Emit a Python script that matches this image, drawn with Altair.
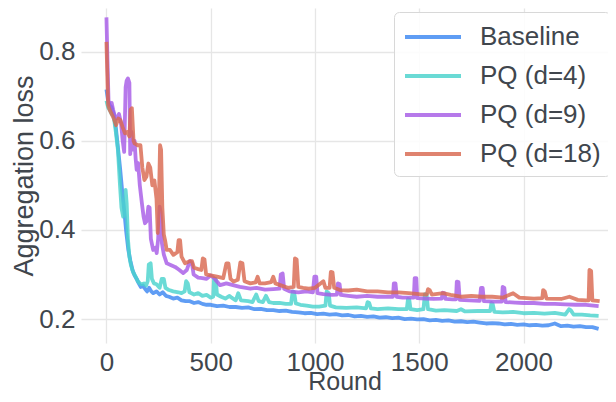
import altair as alt
import pandas as pd

series_names = ["Baseline", "PQ (d=4)", "PQ (d=9)", "PQ (d=18)"]
series_colors = ["#3d88f2", "#4ad3cd", "#a75ce6", "#d96950"]

base_x = [0, 8, 15, 25, 35, 45, 55, 65, 75, 85, 95, 105, 115, 125, 135, 145, 155, 165, 175, 185,
          195, 205, 215, 225, 240, 255, 270, 285, 300, 320, 340, 360, 380, 400, 420, 440, 460, 480,
          500, 530, 560, 590, 620, 650, 680, 710, 740, 770, 800, 830, 860, 890, 920, 950, 980, 1010,
          1040, 1070, 1100, 1130, 1160, 1190, 1220, 1250, 1280, 1310, 1340, 1370, 1400, 1430, 1460,
          1490, 1520, 1550, 1580, 1610, 1640, 1670, 1700, 1730, 1760, 1790, 1820, 1850, 1880, 1910,
          1940, 1970, 2000, 2030, 2060, 2090, 2120, 2150, 2180, 2210, 2240, 2270, 2300, 2330, 2360]
base_y = [0.715, 0.69, 0.68, 0.675, 0.66, 0.63, 0.585, 0.54, 0.49, 0.445, 0.395, 0.355, 0.33, 0.31,
          0.298, 0.29, 0.28, 0.272, 0.275, 0.268, 0.262, 0.27, 0.262, 0.258, 0.262, 0.255, 0.26,
          0.252, 0.25, 0.246, 0.248, 0.242, 0.24, 0.24, 0.236, 0.238, 0.234, 0.232, 0.232, 0.229,
          0.23, 0.227, 0.227, 0.225, 0.226, 0.222, 0.223, 0.22, 0.22, 0.218, 0.219, 0.216, 0.215,
          0.213, 0.214, 0.211, 0.212, 0.21, 0.211, 0.208, 0.209, 0.206, 0.207, 0.205, 0.206, 0.203,
          0.204, 0.202, 0.203, 0.2, 0.201, 0.199, 0.2, 0.197, 0.198, 0.196, 0.197, 0.194, 0.195,
          0.193, 0.194, 0.192, 0.19, 0.191, 0.19, 0.188, 0.189, 0.187, 0.188, 0.186, 0.187, 0.185,
          0.186, 0.19, 0.184, 0.185, 0.183, 0.184, 0.182, 0.182, 0.178]

pq4_x = [0, 8, 15, 25, 35, 45, 55, 65, 72, 80, 86, 92, 97, 103, 110, 118, 128, 140, 150, 160, 170,
         180, 190, 198, 203, 212, 218, 228, 240, 255, 265, 275, 283, 300, 320, 345, 360, 375, 382,
         390, 398, 420, 440, 460, 480, 500, 512, 516, 524, 530, 550, 570, 590, 600, 620, 632, 645,
         680, 700, 718, 730, 750, 765, 780, 800, 830, 860, 885, 893, 900, 908, 930, 960, 990, 1020,
         1050, 1056, 1066, 1072, 1100, 1150, 1200, 1245, 1252, 1260, 1268, 1300, 1350, 1400, 1440,
         1446, 1452, 1458, 1490, 1520, 1527, 1535, 1542, 1580, 1620, 1680, 1700, 1720, 1780, 1840,
         1846, 1852, 1860, 1900, 1950, 2000, 2050, 2100, 2150, 2200, 2218, 2226, 2240, 2280, 2320,
         2360]
pq4_y = [0.69, 0.675, 0.67, 0.66, 0.655, 0.62, 0.58, 0.5, 0.45, 0.43, 0.44, 0.49, 0.46, 0.38, 0.34,
         0.32, 0.305, 0.295, 0.285, 0.28, 0.278, 0.28, 0.275, 0.285, 0.322, 0.325, 0.29, 0.28, 0.278,
         0.27, 0.29, 0.29, 0.27, 0.265, 0.262, 0.26, 0.258, 0.262, 0.285, 0.28, 0.26, 0.255, 0.258,
         0.252, 0.254, 0.248, 0.25, 0.29, 0.29, 0.255, 0.25, 0.246, 0.252, 0.248, 0.242, 0.258,
         0.242, 0.24, 0.238, 0.255, 0.24, 0.238, 0.252, 0.238, 0.236, 0.236, 0.234, 0.234, 0.262,
         0.26, 0.235, 0.232, 0.23, 0.228, 0.228, 0.23, 0.262, 0.258, 0.23, 0.226, 0.225, 0.226,
         0.224, 0.238, 0.236, 0.224, 0.222, 0.224, 0.222, 0.222, 0.245, 0.244, 0.222, 0.22, 0.222,
         0.256, 0.255, 0.222, 0.219, 0.22, 0.218, 0.222, 0.217, 0.218, 0.218, 0.236, 0.234, 0.216,
         0.215, 0.216, 0.213, 0.214, 0.212, 0.214, 0.21, 0.222, 0.22, 0.21, 0.21, 0.208, 0.207]

pq9_x = [0, 5, 10, 18, 25, 32, 40, 50, 60, 70, 78, 85, 92, 97, 103, 110, 114, 120, 128, 135, 140,
         145, 152, 160, 170, 178, 185, 193, 201, 207, 213, 224, 235, 241, 248, 255, 260, 266, 275,
         289, 305, 329, 350, 368, 385, 400, 410, 418, 440, 460, 480, 500, 520, 545, 575, 607, 640,
         690, 720, 760, 800, 830, 836, 845, 852, 880, 920, 960, 990, 997, 1006, 1012, 1040, 1080,
         1105, 1110, 1118, 1124, 1160, 1200, 1250, 1300, 1340, 1374, 1378, 1386, 1392, 1420, 1460,
         1474, 1478, 1486, 1490, 1530, 1570, 1608, 1612, 1620, 1626, 1660, 1676, 1680, 1688, 1694,
         1740, 1790, 1796, 1804, 1810, 1860, 1896, 1900, 1908, 1914, 1960, 2000, 2050, 2100, 2150,
         2200, 2250, 2300, 2360]
pq9_y = [0.877, 0.78, 0.69, 0.68, 0.685, 0.67, 0.655, 0.65, 0.66, 0.64, 0.6, 0.575, 0.72, 0.735,
         0.74, 0.73, 0.57, 0.62, 0.58, 0.6, 0.56, 0.535, 0.55, 0.5, 0.46, 0.43, 0.415, 0.42, 0.452,
         0.45, 0.38, 0.355, 0.36, 0.348, 0.38, 0.452, 0.44, 0.37, 0.345, 0.325, 0.322, 0.317, 0.31,
         0.303, 0.31, 0.33, 0.325, 0.3, 0.293, 0.292, 0.29, 0.298, 0.29, 0.276, 0.28, 0.276, 0.272,
         0.268, 0.27, 0.266, 0.267, 0.268, 0.3, 0.302, 0.268, 0.262, 0.26, 0.262, 0.26, 0.295,
         0.295, 0.258, 0.256, 0.254, 0.255, 0.28, 0.278, 0.254, 0.252, 0.25, 0.252, 0.25, 0.25,
         0.25, 0.28, 0.28, 0.25, 0.248, 0.248, 0.248, 0.292, 0.292, 0.247, 0.246, 0.245, 0.246,
         0.259, 0.258, 0.245, 0.244, 0.244, 0.284, 0.283, 0.243, 0.242, 0.241, 0.27, 0.27, 0.24,
         0.239, 0.239, 0.272, 0.27, 0.238, 0.237, 0.236, 0.236, 0.234, 0.234, 0.233, 0.232, 0.232,
         0.229]

pq18_x = [0, 4, 8, 15, 25, 35, 46, 57, 67, 78, 89, 100, 110, 116, 122, 130, 135, 150, 163, 172,
          182, 192, 201, 210, 220, 230, 240, 246, 251, 257, 262, 268, 275, 281, 289, 305, 321, 340,
          346, 353, 360, 377, 400, 410, 420, 440, 455, 462, 470, 478, 500, 530, 560, 575, 585, 595,
          610, 630, 642, 652, 662, 690, 715, 725, 735, 760, 790, 800, 810, 840, 870, 898, 904, 912,
          920, 943, 970, 1000, 1040, 1050, 1070, 1076, 1084, 1092, 1120, 1160, 1200, 1250, 1300,
          1350, 1400, 1450, 1500, 1536, 1542, 1550, 1560, 1614, 1650, 1700, 1750, 1800, 1850, 1900,
          1950, 1980, 2050, 2090, 2094, 2102, 2110, 2180, 2220, 2260, 2300, 2312, 2316, 2324, 2330,
          2365]
pq18_y = [0.822, 0.75, 0.68, 0.67, 0.66, 0.65, 0.635, 0.65, 0.646, 0.63, 0.617, 0.62, 0.61, 0.67,
          0.673, 0.6, 0.594, 0.59, 0.59, 0.54, 0.512, 0.52, 0.549, 0.54, 0.5, 0.511, 0.47, 0.393,
          0.45, 0.59, 0.58, 0.45, 0.39, 0.377, 0.355, 0.355, 0.344, 0.35, 0.377, 0.377, 0.34, 0.325,
          0.33, 0.33, 0.315, 0.312, 0.31, 0.336, 0.334, 0.3, 0.298, 0.295, 0.292, 0.325, 0.325,
          0.29, 0.284, 0.288, 0.327, 0.325, 0.285, 0.28, 0.282, 0.295, 0.28, 0.28, 0.283, 0.295,
          0.28, 0.275, 0.27, 0.272, 0.336, 0.334, 0.272, 0.27, 0.268, 0.27, 0.285, 0.27, 0.27,
          0.306, 0.305, 0.27, 0.265, 0.264, 0.266, 0.262, 0.262, 0.26, 0.26, 0.258, 0.256, 0.255,
          0.267, 0.265, 0.255, 0.258, 0.254, 0.25, 0.252, 0.25, 0.25, 0.248, 0.258, 0.248, 0.246,
          0.247, 0.265, 0.262, 0.246, 0.245, 0.25, 0.243, 0.242, 0.242, 0.31, 0.308, 0.242, 0.24]

x_ticks = [0, 500, 1000, 1500, 2000]
y_ticks = [0.2, 0.4, 0.6, 0.8]

frames = []
for name, xs, ys in zip(series_names,
                        [base_x, pq4_x, pq9_x, pq18_x],
                        [base_y, pq4_y, pq9_y, pq18_y]):
    frames.append(pd.DataFrame({"Round": xs, "Loss": ys, "Series": name, "idx": range(len(xs))}))
df = pd.concat(frames, ignore_index=True)

FONT = "Liberation Sans"
TXT = "#40464d"

chart = alt.Chart(df).mark_line(strokeWidth=3.8, strokeOpacity=0.82, strokeJoin="round").encode(
    x=alt.X("Round:Q",
            scale=alt.Scale(domain=[-122, 2405], nice=False, zero=False),
            axis=alt.Axis(values=x_ticks, format="d", title="Round", labelPadding=6,
                          titlePadding=-6, titleFontSize=25)),
    y=alt.Y("Loss:Q",
            scale=alt.Scale(domain=[0.1462, 0.898], nice=False, zero=False),
            axis=alt.Axis(values=y_ticks, format=".1f", title="Aggregation loss", labelPadding=6,
                          titlePadding=0, titleFontSize=27)),
    color=alt.Color("Series:N",
                    scale=alt.Scale(domain=series_names, range=series_colors),
                    legend=alt.Legend(title=None, orient="none", legendX=313, legendY=4,
                                      symbolType="M-1,0H3", symbolSize=784, symbolStrokeWidth=4,
                                      labelFontSize=26, labelOffset=45, rowPadding=10,
                                      padding=9, fillColor="rgba(255,255,255,0.85)",
                                      strokeColor="#d8d8d8", cornerRadius=5,
                                      labelColor=TXT, labelFont=FONT, symbolOpacity=0.82)),
    order=alt.Order("idx:Q"),
).properties(
    width=527, height=335,
    autosize=alt.AutoSizeParams(type="none"),
    padding={"left": 73, "top": 0, "right": 0, "bottom": 51},
).configure_view(stroke=None).configure_axis(
    domain=False, ticks=False, grid=True, gridColor="#e6e6e6", gridWidth=1.3,
    labelFont=FONT, titleFont=FONT, labelFontSize=26, labelColor=TXT, titleColor=TXT,
    titleFontWeight="normal",
)

chart.save("out.html", embed_options={"renderer": "svg", "actions": False})
